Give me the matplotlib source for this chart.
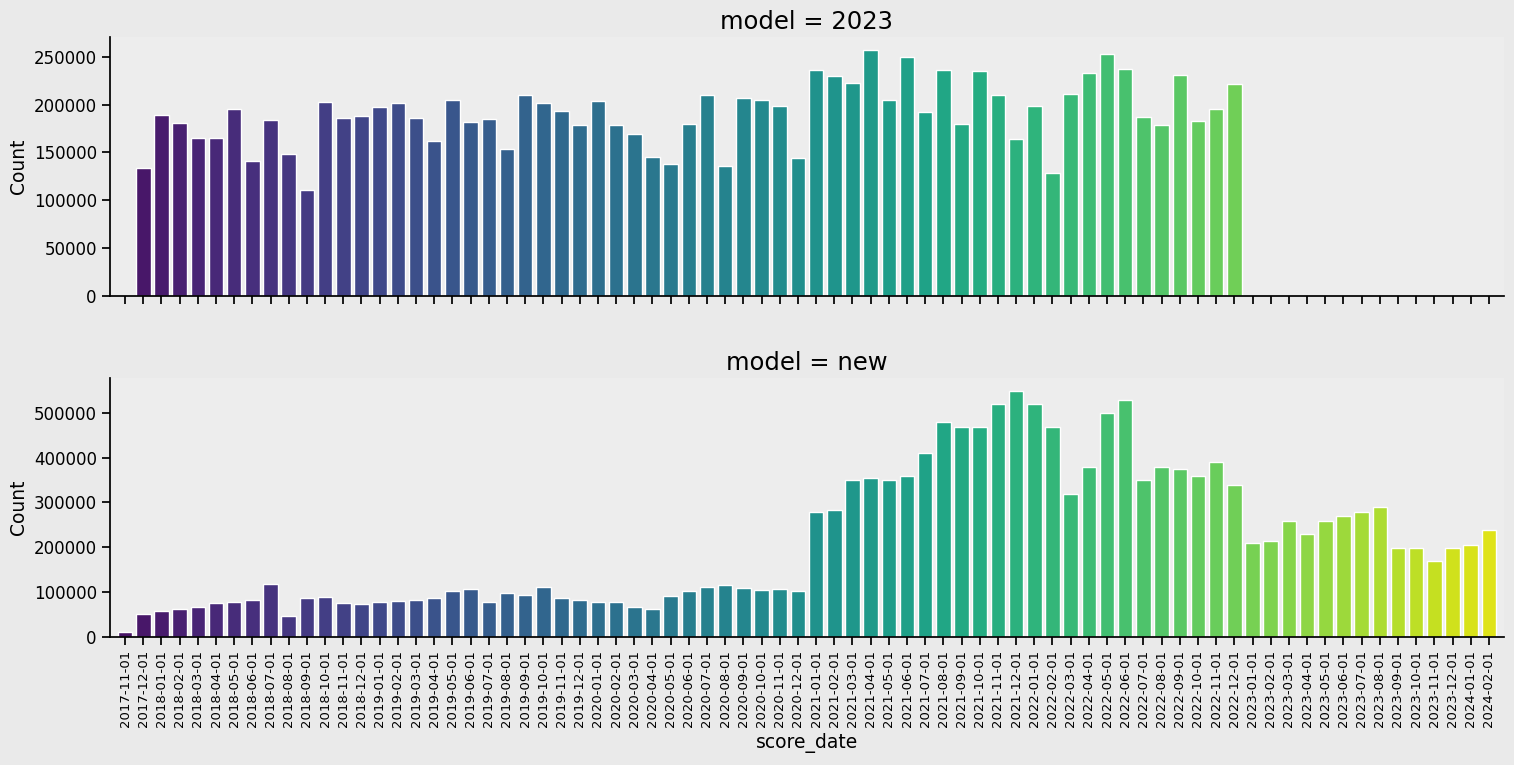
import numpy as np
import matplotlib
matplotlib.use("Agg")
import matplotlib.pyplot as plt

# categories: monthly dates 2017-11 .. 2024-02
score_dates = (
    ["2017-11-01", "2017-12-01"]
    + [f"{y}-{m:02d}-01" for y in range(2018, 2024) for m in range(1, 13)]
    + ["2024-01-01", "2024-02-01"]
)

count_2023 = [
    0, 134000, 189000, 180700, 165000, 165000, 195300, 141000, 183800, 148300,
    110700, 202700, 185900, 188000, 197400, 201600, 185900, 161900, 204700, 181800,
    184900, 153600, 210000, 201600, 193300, 178600, 203700, 178600, 169200, 145200,
    137900, 179700, 210000, 135800, 206800, 204700, 198500, 144200, 236100, 229800,
    222500, 257000, 204700, 249700, 192200, 236100, 179700, 235000, 210000, 164000,
    198500, 128500, 211000, 233000, 252800, 237100, 187000, 178600, 230900, 182800,
    195300, 221500, 0, 0, 0, 0, 0, 0, 0, 0,
    0, 0, 0, 0, 0, 0,
]

count_new = [
    11900, 52200, 58900, 63300, 67800, 76800, 79000, 83500, 119200, 47700,
    87900, 90200, 76800, 74500, 79000, 81200, 83500, 87900, 103600, 108100,
    79000, 99100, 94600, 112500, 87900, 83500, 79000, 79000, 67800, 63300,
    92400, 103600, 112500, 117000, 110300, 105800, 108100, 103600, 278000, 282400,
    349500, 354000, 349500, 358400, 409900, 479200, 468000, 468000, 519400, 548500,
    519400, 468000, 318200, 378600, 499300, 528300, 349500, 378600, 374100, 358400,
    389700, 338300, 208700, 213100, 257800, 228800, 257800, 269000, 278000, 289100,
    197500, 197500, 168400, 197500, 204200, 237700,
]

models = ["2023", "new"]
series = {"2023": count_2023, "new": count_new}

n = len(score_dates)
cmap = plt.get_cmap("viridis")
colors = [cmap(b) for b in np.linspace(0.05, 0.95, n)]

fig_bg = "#EAEAEA"
ax_bg = "#EDEDED"
fig = plt.figure(figsize=(15.14, 7.65), dpi=100, facecolor=fig_bg)

left, right = 110 / 1514, 1504 / 1514
axes_px = [(37, 296), (378, 637)]
axs = []
for k, (t, b) in enumerate(axes_px):
    ax = fig.add_axes([left, 1 - b / 765, right - left, (b - t) / 765],
                      sharex=axs[0] if axs else None)
    axs.append(ax)

x = np.arange(n)
for ax, m in zip(axs, models):
    ax.set_facecolor(ax_bg)
    ax.bar(x, series[m], width=0.8, color=colors, edgecolor="white", linewidth=1)
    ax.set_title(f"model = {m}", fontsize=17.5)
    ax.set_ylabel("Count", fontsize=13.5)
    ax.spines["top"].set_visible(False)
    ax.spines["right"].set_visible(False)
    for s in ("left", "bottom"):
        ax.spines[s].set_linewidth(1.25)
        ax.spines[s].set_color("black")
    ax.tick_params(axis="both", length=6, width=1.25, color="black")
    ax.tick_params(axis="y", labelsize=12)
    ax.set_ylim(0, max(series[m]) * 1.053)

axs[0].set_xlim(-0.83, n - 1 + 0.83)
axs[1].set_xticks(x)
axs[1].set_xticklabels(score_dates, rotation=90, fontsize=9.5)
axs[0].tick_params(axis="x", labelbottom=False)
axs[1].set_xlabel("score_date", fontsize=13.5)

fig.savefig("out.png", dpi=100, facecolor=fig_bg)
